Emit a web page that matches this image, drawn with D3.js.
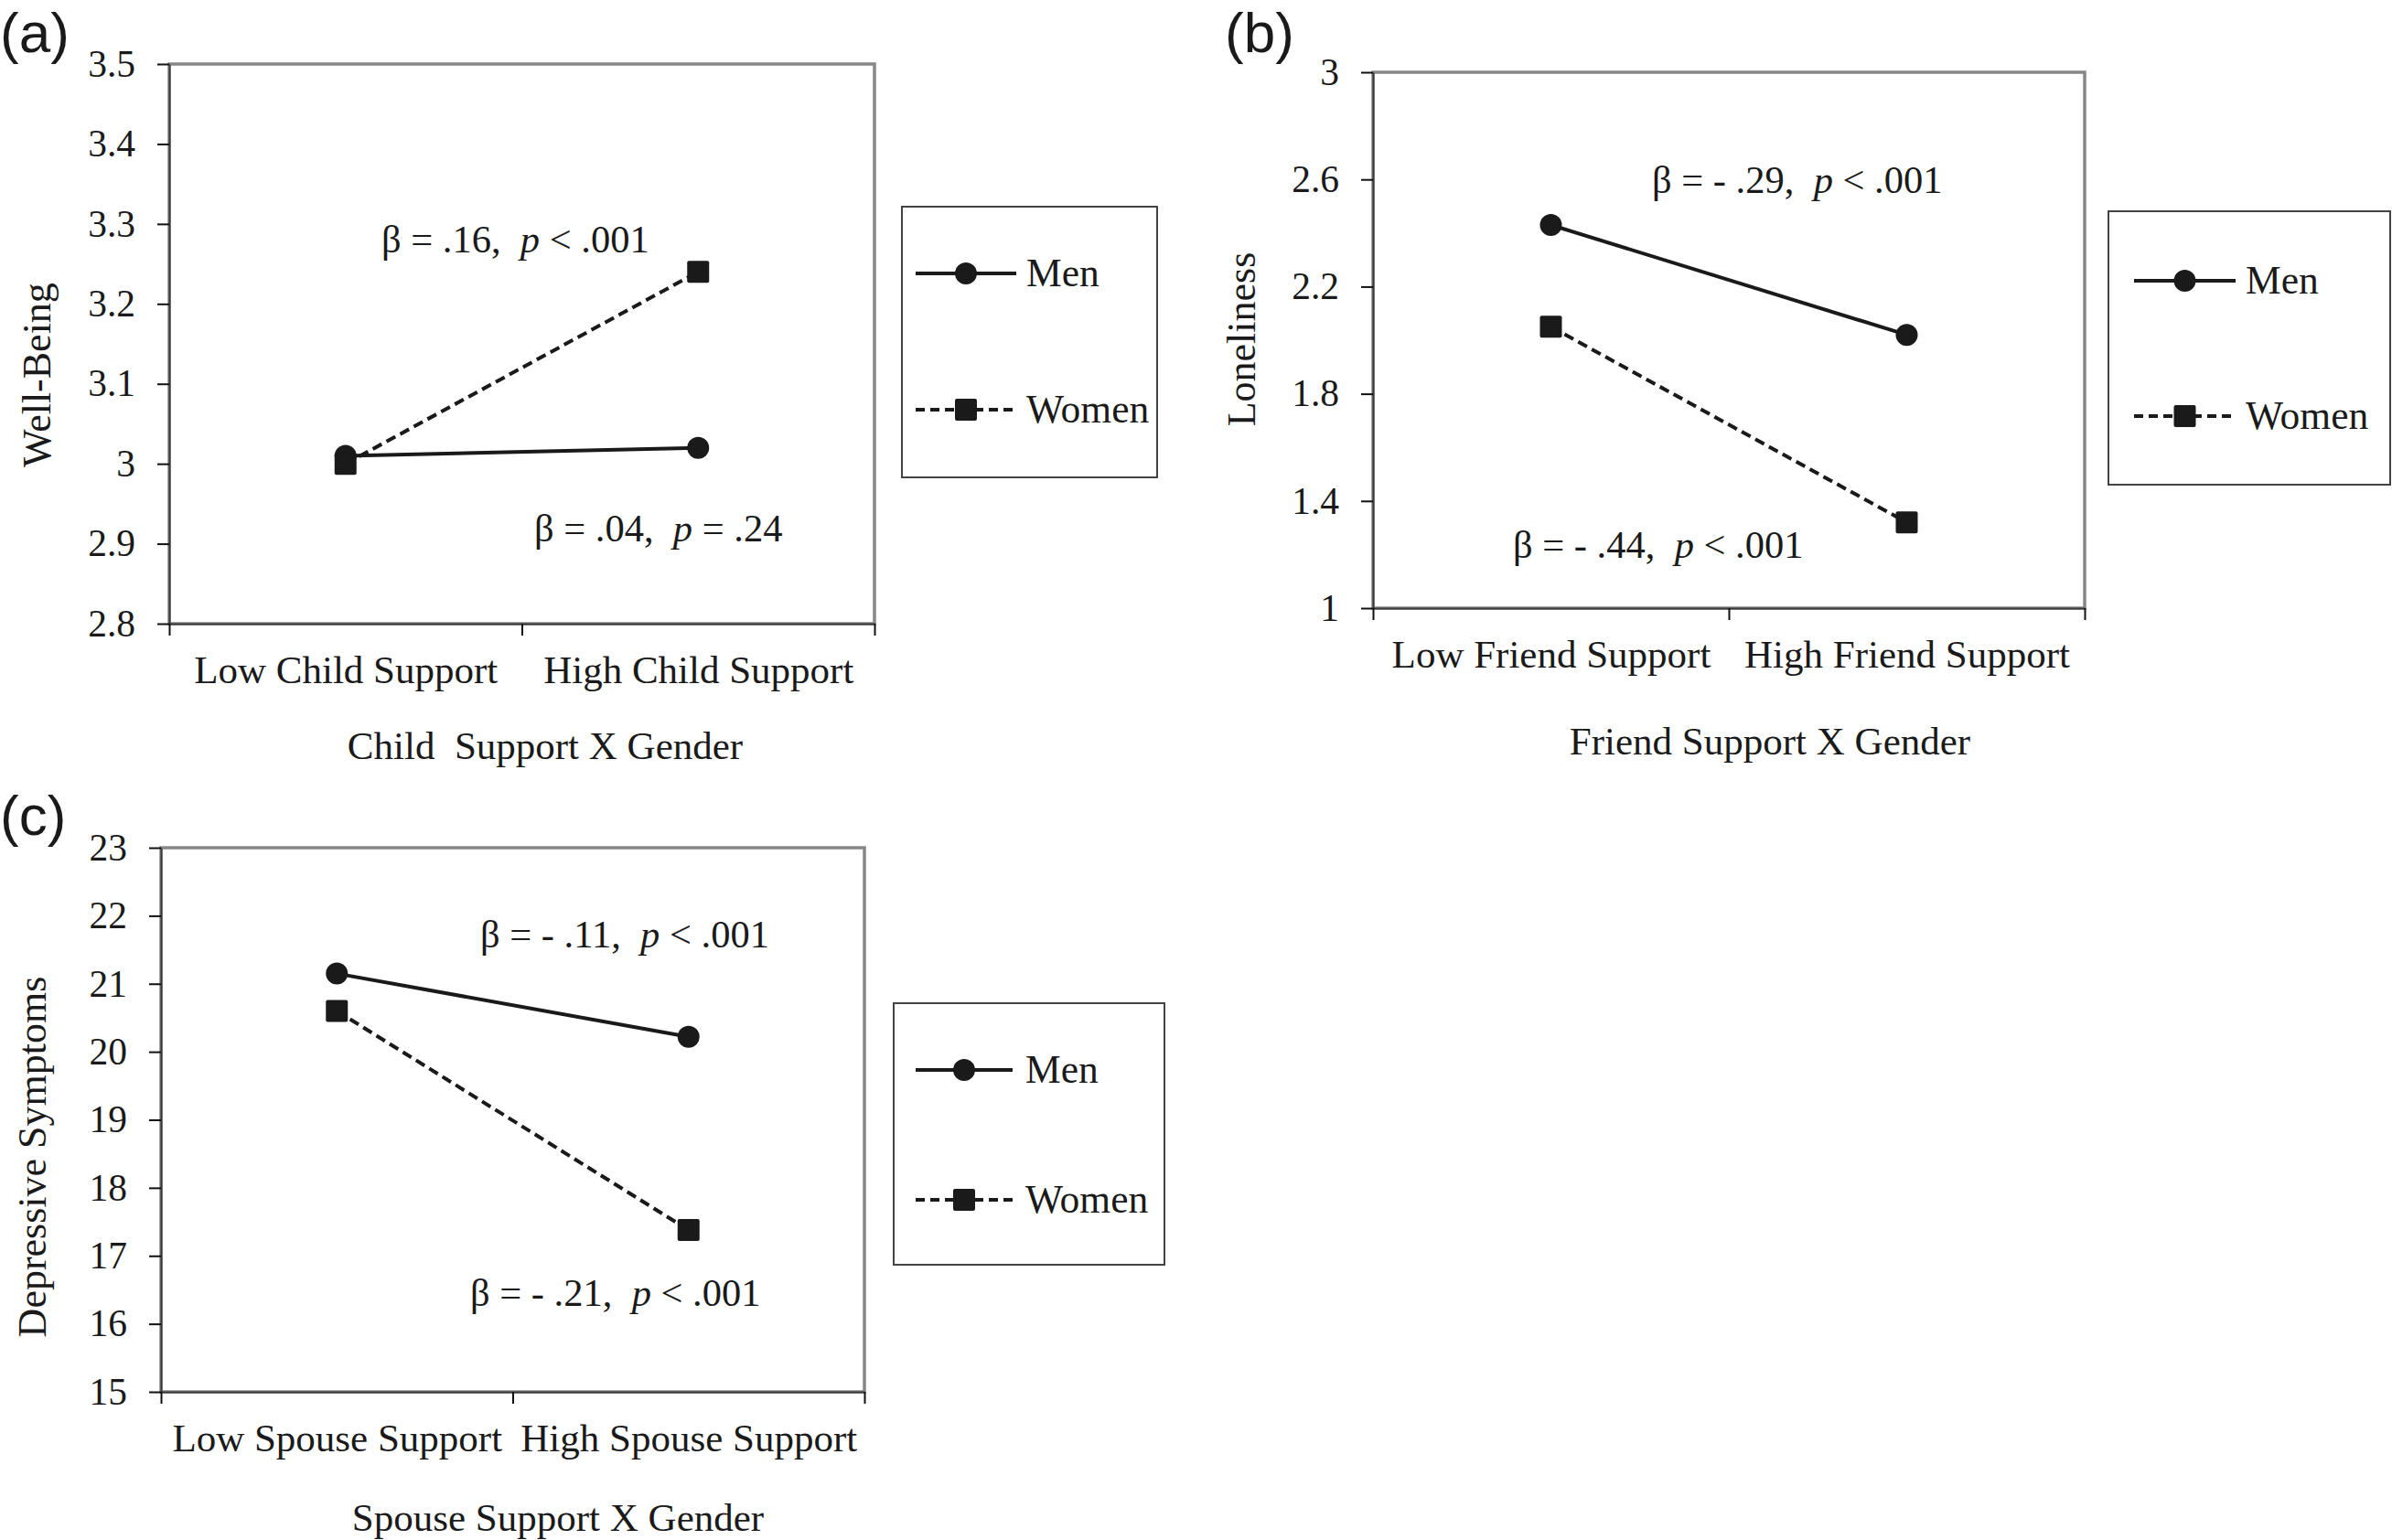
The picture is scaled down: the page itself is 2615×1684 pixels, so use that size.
<!DOCTYPE html>
<html><head><meta charset="utf-8">
<script src="https://cdnjs.cloudflare.com/ajax/libs/d3/7.8.5/d3.min.js"></script>
<style>
html,body{margin:0;padding:0;background:#fff;}
svg{display:block;}
text{font-family:"Liberation Serif","Times New Roman",serif;fill:#1a1a1a;}
</style></head><body>
<svg id="chart" width="2615" height="1684"></svg>
<script>
// ---------------- data ----------------
const seriesNames = ["Men", "Women"];
const panelTags = ["(a)", "(b)", "(c)"];

const childCategories = ["Low Child Support", "High Child Support"];
const childMen = [3.01, 3.02];
const childWomen = [3.00, 3.24];
const childTicks = [2.8, 2.9, 3, 3.1, 3.2, 3.3, 3.4, 3.5];
const childTickLabels = ["2.8", "2.9", "3", "3.1", "3.2", "3.3", "3.4", "3.5"];
const childStatMen = ["β = .04,  ", "p", " = .24"];
const childStatWomen = ["β = .16,  ", "p", " < .001"];

const friendCategories = ["Low Friend Support", "High Friend Support"];
const friendMen = [2.43, 2.02];
const friendWomen = [2.05, 1.32];
const friendTicks = [1, 1.4, 1.8, 2.2, 2.6, 3];
const friendTickLabels = ["1", "1.4", "1.8", "2.2", "2.6", "3"];
const friendStatMen = ["β = - .29,  ", "p", " < .001"];
const friendStatWomen = ["β = - .44,  ", "p", " < .001"];

const spouseCategories = ["Low Spouse Support", "High Spouse Support"];
const spouseMen = [21.15, 20.22];
const spouseWomen = [20.6, 17.38];
const spouseTicks = [15, 16, 17, 18, 19, 20, 21, 22, 23];
const spouseTickLabels = ["15", "16", "17", "18", "19", "20", "21", "22", "23"];
const spouseStatMen = ["β = - .11,  ", "p", " < .001"];
const spouseStatWomen = ["β = - .21,  ", "p", " < .001"];

const yTitles = ["Well-Being", "Loneliness", "Depressive Symptoms"];
const xTitles = ["Child  Support X Gender", "Friend Support X Gender", "Spouse Support X Gender"];

// ---------------- layout ----------------
const panels = [
  { tag: panelTags[0], tagPos: [0, 57],
    box: {x0: 185, y0: 70, x1: 956, y1: 682},
    cats: childCategories, men: childMen, women: childWomen,
    ticks: childTicks, tickLabels: childTickLabels,
    yTitle: yTitles[0], yTitlePos: [55, 410],
    xTitle: xTitles[0], xTitlePos: [596, 830], catBase: 747,
    statMen: childStatMen, statMenPos: [584, 592],
    statWomen: childStatWomen, statWomenPos: [417, 276],
    legend: {x0: 986, y0: 226, x1: 1265, y1: 522, rows: [299, 448], l0: 1001, l1: 1111, tx: 1122} },
  { tag: panelTags[1], tagPos: [1339, 57],
    box: {x0: 1501, y0: 79, x1: 2279, y1: 665},
    cats: friendCategories, men: friendMen, women: friendWomen,
    ticks: friendTicks, tickLabels: friendTickLabels,
    yTitle: yTitles[1], yTitlePos: [1372, 371],
    xTitle: xTitles[1], xTitlePos: [1935, 825], catBase: 730,
    statMen: friendStatMen, statMenPos: [1806, 211],
    statWomen: friendStatWomen, statWomenPos: [1654, 610],
    legend: {x0: 2305, y0: 231, x1: 2613, y1: 530, rows: [307, 455], l0: 2333, l1: 2444, tx: 2455} },
  { tag: panelTags[2], tagPos: [0, 913],
    box: {x0: 176, y0: 927, x1: 945, y1: 1522},
    cats: spouseCategories, men: spouseMen, women: spouseWomen,
    ticks: spouseTicks, tickLabels: spouseTickLabels,
    yTitle: yTitles[2], yTitlePos: [50, 1265],
    xTitle: xTitles[2], xTitlePos: [610, 1674], catBase: 1587,
    statMen: spouseStatMen, statMenPos: [525, 1036],
    statWomen: spouseStatWomen, statWomenPos: [514, 1428],
    legend: {x0: 977, y0: 1097, x1: 1273, y1: 1383, rows: [1170, 1312], l0: 1001, l1: 1107, tx: 1121} }
];

const INK = "#1a1a1a";
const DASH = "11,6";
const svg = d3.select("#chart");

function stat(g, parts, pos) {
  const t = g.append("text").attr("x", pos[0]).attr("y", pos[1])
    .attr("font-size", 42.5).style("white-space", "pre");
  t.append("tspan").text(parts[0]);
  t.append("tspan").attr("font-style", "italic").text(parts[1]);
  t.append("tspan").text(parts[2]);
}

function marker(g, kind, x, y) {
  if (kind === 0) {
    g.append("circle").attr("cx", x).attr("cy", y).attr("r", 12).attr("fill", INK);
  } else {
    g.append("rect").attr("x", x - 12).attr("y", y - 12).attr("width", 24).attr("height", 24)
      .attr("rx", 2).attr("fill", INK);
  }
}

panels.forEach(p => {
  const g = svg.append("g");
  const b = p.box;
  const y = d3.scaleLinear().domain([p.ticks[0], p.ticks[p.ticks.length - 1]]).range([b.y1, b.y0]);
  const xp = d3.scalePoint().domain(p.cats).range([b.x0, b.x1]).padding(0.5);
  const xb = d3.scaleLinear().domain([0, p.cats.length]).range([b.x0, b.x1]);

  // panel tag
  g.append("text").attr("x", p.tagPos[0]).attr("y", p.tagPos[1])
    .style("font-family", "'Liberation Sans', Arial, sans-serif").attr("font-size", 62).text(p.tag);

  // plot frame (gray)
  g.append("rect").attr("x", b.x0).attr("y", b.y0).attr("width", b.x1 - b.x0).attr("height", b.y1 - b.y0)
    .attr("fill", "none").attr("stroke", "#878787").attr("stroke-width", 3.5);

  // y axis
  const ya = g.append("g").attr("transform", `translate(${b.x0},0)`)
    .call(d3.axisLeft(y).tickValues(p.ticks).tickSize(13).tickSizeOuter(0).tickPadding(24)
      .tickFormat((d, i) => p.tickLabels[i]));
  ya.select(".domain").attr("stroke", "#3a3a3a").attr("stroke-width", 2);
  ya.selectAll(".tick line").attr("stroke", "#111").attr("stroke-width", 2);
  ya.selectAll(".tick text").attr("font-size", 41.5).attr("font-family", null).attr("fill", INK);

  // x axis (boundary ticks)
  const xa = g.append("g").attr("transform", `translate(0,${b.y1})`)
    .call(d3.axisBottom(xb).tickValues(d3.range(p.cats.length + 1)).tickSize(13).tickSizeOuter(0).tickFormat(""));
  xa.select(".domain").attr("stroke", "#3a3a3a").attr("stroke-width", 2);
  xa.selectAll(".tick line").attr("stroke", "#111").attr("stroke-width", 2);

  // category labels
  const xl = g.append("g").attr("transform", `translate(0,${b.y1})`)
    .call(d3.axisBottom(xp).tickSize(0).tickPadding(0));
  xl.select(".domain").remove();
  xl.selectAll(".tick text").attr("font-size", 43).attr("font-family", null).attr("fill", INK)
    .attr("dy", null).attr("y", p.catBase - b.y1);

  // y title
  g.append("text").attr("transform", `translate(${p.yTitlePos[0]},${p.yTitlePos[1]}) rotate(-90)`)
    .attr("text-anchor", "middle").attr("font-size", 44).text(p.yTitle);

  // x title
  g.append("text").attr("x", p.xTitlePos[0]).attr("y", p.xTitlePos[1]).attr("text-anchor", "middle")
    .attr("font-size", 43).style("white-space", "pre").text(p.xTitle);

  // lines
  const line = d3.line().x((d, i) => xp(p.cats[i])).y(d => y(d));
  g.append("path").datum(p.women).attr("d", line).attr("fill", "none").attr("stroke", INK)
    .attr("stroke-width", 4).attr("stroke-dasharray", DASH);
  g.append("path").datum(p.men).attr("d", line).attr("fill", "none").attr("stroke", INK)
    .attr("stroke-width", 4);
  p.men.forEach((v, i) => marker(g, 0, xp(p.cats[i]), y(v)));
  p.women.forEach((v, i) => marker(g, 1, xp(p.cats[i]), y(v)));

  // stats
  stat(g, p.statMen, p.statMenPos);
  stat(g, p.statWomen, p.statWomenPos);

  // legend
  const L = p.legend;
  g.append("rect").attr("x", L.x0).attr("y", L.y0).attr("width", L.x1 - L.x0).attr("height", L.y1 - L.y0)
    .attr("fill", "none").attr("stroke", "#444").attr("stroke-width", 2);
  seriesNames.forEach((name, k) => {
    const ry = L.rows[k];
    g.append("line").attr("x1", L.l0).attr("x2", L.l1).attr("y1", ry).attr("y2", ry)
      .attr("stroke", INK).attr("stroke-width", 4).attr("stroke-dasharray", k === 1 ? "10,6" : null);
    marker(g, k, (L.l0 + L.l1) / 2, ry);
    g.append("text").attr("x", L.tx).attr("y", ry + 14).attr("font-size", 43.5).text(name);
  });
});
</script>
</body></html>
